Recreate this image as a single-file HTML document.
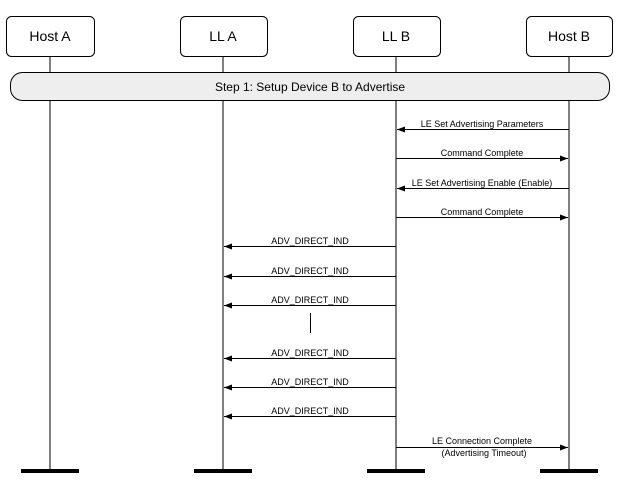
<!DOCTYPE html>
<html><head><style>body{margin:0;background:#fff}</style></head><body>
<svg width="621" height="484" xmlns="http://www.w3.org/2000/svg" font-family="Liberation Sans, sans-serif">
<defs><marker id="a" markerWidth="8" markerHeight="6" refX="8" refY="3" orient="auto" markerUnits="userSpaceOnUse"><path d="M0,0L8,3L0,6z" fill="#000"/></marker></defs>
<g stroke="#000" stroke-width="1">
<line x1="50" y1="56" x2="50" y2="470"/><line x1="223" y1="56" x2="223" y2="470"/><line x1="396" y1="56" x2="396" y2="470"/><line x1="569" y1="56" x2="569" y2="470"/>
</g>
<g fill="#fff" stroke="#000" stroke-width="1">
<rect x="6.5" y="16.5" width="88" height="40" rx="5"/>
<rect x="180.5" y="16.5" width="87" height="40" rx="5"/>
<rect x="353.5" y="16.5" width="87" height="40" rx="5"/>
<rect x="526.5" y="16.5" width="86" height="40" rx="5"/>
<rect x="10.5" y="72.5" width="599" height="28" rx="12" fill="#eee"/>
</g>
<g font-size="14" text-anchor="middle">
<text x="50" y="41">Host A</text><text x="223" y="41">LL A</text><text x="396" y="41">LL B</text><text x="569" y="41">Host B</text>
</g>
<text x="310" y="91" font-size="12" text-anchor="middle">Step 1:  Setup Device B to Advertise</text>
<g stroke="#000" stroke-width="1" marker-end="url(#a)">
<line x1="569" y1="129.5" x2="397" y2="129.5"/>
<line x1="396" y1="158.5" x2="568" y2="158.5"/>
<line x1="569" y1="188.5" x2="397" y2="188.5"/>
<line x1="396" y1="217.5" x2="568" y2="217.5"/>
<line x1="396" y1="246.5" x2="224" y2="246.5"/>
<line x1="396" y1="276.5" x2="224" y2="276.5"/>
<line x1="396" y1="305.5" x2="224" y2="305.5"/>
<line x1="396" y1="358.5" x2="224" y2="358.5"/>
<line x1="396" y1="387.5" x2="224" y2="387.5"/>
<line x1="396" y1="416.5" x2="224" y2="416.5"/>
<line x1="396" y1="447.5" x2="568" y2="447.5"/>
</g>
<line x1="310.5" y1="313" x2="310.5" y2="333" stroke="#000"/>
<g font-size="9" text-anchor="middle">
<text x="482" y="127">LE Set Advertising Parameters</text>
<text x="482" y="156">Command Complete</text>
<text x="482" y="186">LE Set Advertising Enable (Enable)</text>
<text x="482" y="215">Command Complete</text>
<text x="310" y="244">ADV_DIRECT_IND</text>
<text x="310" y="274">ADV_DIRECT_IND</text>
<text x="310" y="303">ADV_DIRECT_IND</text>
<text x="310" y="356">ADV_DIRECT_IND</text>
<text x="310" y="385">ADV_DIRECT_IND</text>
<text x="310" y="414">ADV_DIRECT_IND</text>
<text x="482" y="444">LE Connection Complete</text>
<text x="484" y="456">(Advertising Timeout)</text>
</g>
<g fill="#000">
<rect x="21" y="469" width="58" height="4"/><rect x="194" y="469" width="58" height="4"/>
<rect x="367" y="469" width="58" height="4"/><rect x="540" y="469" width="58" height="4"/>
</g>
</svg>
</body></html>
